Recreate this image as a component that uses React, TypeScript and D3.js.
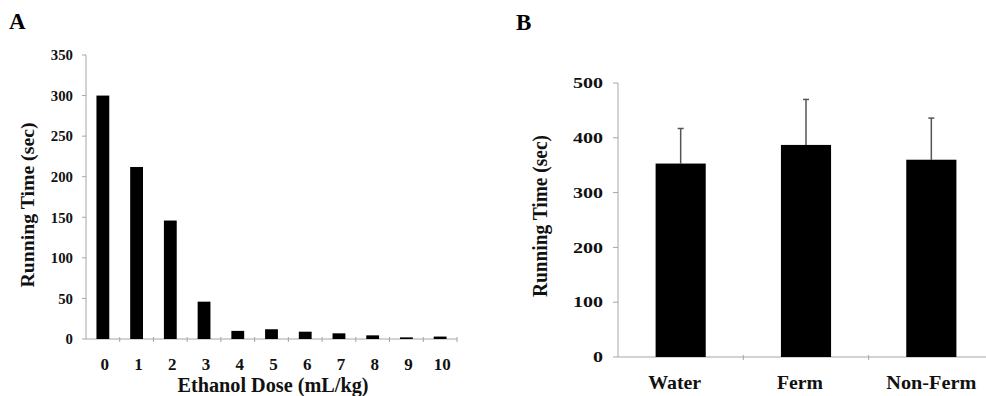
import React, { useEffect, useRef } from 'react';
import * as d3 from 'd3';

// Panel A: running time by ethanol dose
const doses = ['0', '1', '2', '3', '4', '5', '6', '7', '8', '9', '10'];
const doseTimes = [300, 212, 146, 46, 10, 12, 9, 7, 4.5, 2, 3];
const ticksA = [0, 50, 100, 150, 200, 250, 300, 350];

// Panel B: running time by beverage group (mean + SD)
const groups = ['Water', 'Ferm', 'Non-Ferm'];
const groupMeans = [353, 387, 360];
const groupErrors = [64, 83, 76];
const ticksB = [0, 100, 200, 300, 400, 500];

const FONT = '"Liberation Serif", "Times New Roman", serif';
const AXIS = '#a6a6a6';

export default function App() {
  const ref = useRef<SVGSVGElement>(null);

  useEffect(() => {
    const svg = d3.select(ref.current);
    svg.selectAll('*').remove();

    // ---------- Panel A ----------
    const a = svg.append('g');
    const xA = d3.scaleBand().domain(doses).range([86, 457]).padding(0);
    const yA = d3.scaleLinear().domain([0, 350]).range([339, 55]);
    const barW = xA.bandwidth() * 0.38;

    a.append('text')
      .attr('x', 9)
      .attr('y', 29)
      .attr('font-family', FONT)
      .attr('font-weight', 'bold')
      .attr('font-size', 23)
      .text('A');

    // axes
    a.append('line')
      .attr('x1', 86).attr('x2', 86)
      .attr('y1', yA(350)).attr('y2', yA(0))
      .attr('stroke', AXIS);
    a.append('line')
      .attr('x1', 86).attr('x2', 457)
      .attr('y1', yA(0)).attr('y2', yA(0))
      .attr('stroke', AXIS);

    ticksA.forEach((t) => {
      a.append('line')
        .attr('x1', 82).attr('x2', 86)
        .attr('y1', yA(t)).attr('y2', yA(t))
        .attr('stroke', AXIS);
      a.append('text')
        .attr('x', 73)
        .attr('y', yA(t))
        .attr('dy', '0.35em')
        .attr('text-anchor', 'end')
        .attr('font-family', FONT)
        .attr('font-weight', 'bold')
        .attr('font-size', 15)
        .attr('fill', '#111')
        .attr('textLength', String(t).length * 7.4)
        .attr('lengthAdjust', 'spacingAndGlyphs')
        .text(t);
    });

    [...doses.map((d) => xA(d)!), 457].slice(1).forEach((x) => {
      a.append('line')
        .attr('x1', x).attr('x2', x)
        .attr('y1', yA(0) - 2).attr('y2', yA(0) + 3)
        .attr('stroke', AXIS);
    });

    a.selectAll('rect.bar')
      .data(doseTimes)
      .join('rect')
      .attr('class', 'bar')
      .attr('x', (_, i) => xA(doses[i])! + xA.bandwidth() / 2 - barW / 2)
      .attr('y', (d) => yA(d))
      .attr('width', barW)
      .attr('height', (d) => yA(0) - yA(d))
      .attr('fill', '#000');

    doses.forEach((d) => {
      a.append('text')
        .attr('x', xA(d)! + xA.bandwidth() / 2 + 2)
        .attr('y', 370)
        .attr('text-anchor', 'middle')
        .attr('font-family', FONT)
        .attr('font-weight', 'bold')
        .attr('font-size', 17)
        .attr('fill', '#111')
        .text(d);
    });

    a.append('text')
      .attr('x', 273)
      .attr('y', 392)
      .attr('text-anchor', 'middle')
      .attr('font-family', FONT)
      .attr('font-weight', 'bold')
      .attr('font-size', 20)
      .attr('fill', '#111')
      .attr('textLength', 191)
      .attr('lengthAdjust', 'spacingAndGlyphs')
      .text('Ethanol Dose (mL/kg)');

    a.append('text')
      .attr('transform', 'translate(34,205) rotate(-90)')
      .attr('text-anchor', 'middle')
      .attr('font-family', FONT)
      .attr('font-weight', 'bold')
      .attr('font-size', 19)
      .attr('fill', '#111')
      .attr('textLength', 165)
      .attr('lengthAdjust', 'spacingAndGlyphs')
      .text('Running Time (sec)');

    // ---------- Panel B ----------
    const b = svg.append('g');
    const xB = d3.scaleBand().domain(groups).range([618, 994]).padding(0);
    const yB = d3.scaleLinear().domain([0, 500]).range([357, 83]);
    const barWB = xB.bandwidth() * 0.4;

    b.append('text')
      .attr('x', 516)
      .attr('y', 30)
      .attr('font-family', FONT)
      .attr('font-weight', 'bold')
      .attr('font-size', 23)
      .text('B');

    b.append('line')
      .attr('x1', 618).attr('x2', 618)
      .attr('y1', yB(500)).attr('y2', yB(0))
      .attr('stroke', AXIS);
    b.append('line')
      .attr('x1', 618).attr('x2', 994)
      .attr('y1', yB(0)).attr('y2', yB(0))
      .attr('stroke', AXIS);

    ticksB.forEach((t) => {
      b.append('line')
        .attr('x1', 613).attr('x2', 618)
        .attr('y1', yB(t)).attr('y2', yB(t))
        .attr('stroke', AXIS);
      b.append('text')
        .attr('x', 603)
        .attr('y', yB(t))
        .attr('dy', '0.35em')
        .attr('text-anchor', 'end')
        .attr('font-family', FONT)
        .attr('font-weight', 'bold')
        .attr('font-size', 15)
        .attr('fill', '#111')
        .attr('textLength', String(t).length * 10)
        .attr('lengthAdjust', 'spacingAndGlyphs')
        .text(t);
    });

    groups.slice(1).forEach((g) => {
      const x = xB(g)!;
      b.append('line')
        .attr('x1', x).attr('x2', x)
        .attr('y1', yB(0) - 2).attr('y2', yB(0) + 3)
        .attr('stroke', AXIS);
    });

    // error bars (upper only)
    groups.forEach((g, i) => {
      const cx = xB(g)! + xB.bandwidth() / 2;
      b.append('line')
        .attr('x1', cx).attr('x2', cx)
        .attr('y1', yB(groupMeans[i])).attr('y2', yB(groupMeans[i] + groupErrors[i]))
        .attr('stroke', '#555')
        .attr('stroke-width', 1.5);
      b.append('line')
        .attr('x1', cx - 3).attr('x2', cx + 3)
        .attr('y1', yB(groupMeans[i] + groupErrors[i]))
        .attr('y2', yB(groupMeans[i] + groupErrors[i]))
        .attr('stroke', '#555')
        .attr('stroke-width', 1.5);
    });

    b.selectAll('rect.bar')
      .data(groupMeans)
      .join('rect')
      .attr('class', 'bar')
      .attr('x', (_, i) => xB(groups[i])! + xB.bandwidth() / 2 - barWB / 2)
      .attr('y', (d) => yB(d))
      .attr('width', barWB)
      .attr('height', (d) => yB(0) - yB(d))
      .attr('fill', '#000');

    const labelW = [53, 46, 90];
    groups.forEach((g, i) => {
      b.append('text')
        .attr('x', xB(g)! + xB.bandwidth() / 2 - 6 + (i === 2 ? 6 : 0))
        .attr('y', 389)
        .attr('text-anchor', 'middle')
        .attr('font-family', FONT)
        .attr('font-weight', 'bold')
        .attr('font-size', 19)
        .attr('fill', '#111')
        .attr('textLength', labelW[i])
        .attr('lengthAdjust', 'spacingAndGlyphs')
        .text(g);
    });

    b.append('text')
      .attr('transform', 'translate(547,216) rotate(-90)')
      .attr('text-anchor', 'middle')
      .attr('font-family', FONT)
      .attr('font-weight', 'bold')
      .attr('font-size', 20)
      .attr('fill', '#111')
      .attr('textLength', 162)
      .attr('lengthAdjust', 'spacingAndGlyphs')
      .text('Running Time (sec)');
  }, []);

  return (
    <svg
      ref={ref}
      width={986}
      height={396}
      style={{ position: 'absolute', left: 0, top: 0, background: '#fff' }}
    />
  );
}
